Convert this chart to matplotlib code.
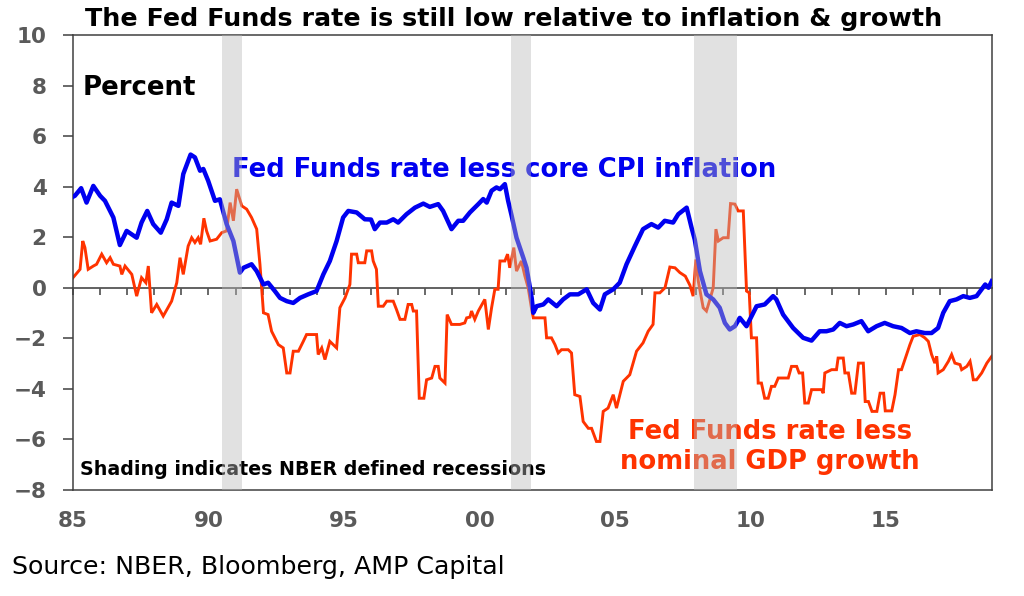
import matplotlib
matplotlib.use("Agg")
import matplotlib.pyplot as plt
import numpy as np

plt.rcParams['font.family'] = ['DejaVu Sans']

# ---------------- data ----------------
blue_years = [1985.0, 1985.07, 1985.3, 1985.5, 1985.75, 1986.0, 1986.18, 1986.49, 1986.73, 1986.98,
              1987.35, 1987.53, 1987.74, 1987.96, 1988.24, 1988.46, 1988.64, 1988.89, 1989.07, 1989.34,
              1989.5, 1989.69, 1989.81, 1989.99, 1990.24, 1990.42, 1990.67, 1990.92, 1991.16, 1991.29,
              1991.59, 1991.78, 1992.03, 1992.2, 1992.45, 1992.64, 1992.89, 1993.13, 1993.38, 1993.68,
              1993.99, 1994.24, 1994.48, 1994.73, 1994.97, 1995.16, 1995.47, 1995.77, 1996.0, 1996.14,
              1996.33, 1996.58, 1996.82, 1997.0, 1997.31, 1997.62, 1997.93, 1998.17, 1998.48, 1998.66,
              1998.97, 1999.22, 1999.4, 1999.65, 1999.96, 2000.14, 2000.27, 2000.45, 2000.63, 2000.76,
              2000.94, 2001.06, 2001.19, 2001.37, 2001.62, 2001.74, 2001.93, 2001.99, 2002.11, 2002.36,
              2002.54, 2002.85, 2003.09, 2003.34, 2003.65, 2003.96, 2004.2, 2004.45, 2004.63, 2004.94,
              2005.18, 2005.43, 2005.74, 2006.04, 2006.35, 2006.6, 2006.84, 2007.15, 2007.34, 2007.65,
              2007.83, 2007.95, 2008.14, 2008.38, 2008.63, 2008.87, 2009.06, 2009.24, 2009.43, 2009.61,
              2009.86, 2010.23, 2010.53, 2010.84, 2010.96, 2011.21, 2011.58, 2011.95, 2012.26, 2012.56,
              2012.81, 2013.06, 2013.3, 2013.55, 2013.8, 2014.1, 2014.35, 2014.66, 2014.96, 2015.27,
              2015.58, 2015.89, 2016.13, 2016.44, 2016.69, 2016.93, 2017.12, 2017.36, 2017.61, 2017.86,
              2018.1, 2018.35, 2018.54, 2018.67, 2018.79, 2018.91]
blue_values = [3.6, 3.64, 3.94, 3.37, 4.03, 3.64, 3.44, 2.78, 1.69, 2.25,
               1.98, 2.58, 3.04, 2.52, 2.18, 2.71, 3.37, 3.24, 4.5, 5.27,
               5.16, 4.63, 4.7, 4.23, 3.44, 3.5, 2.52, 1.85, 0.6, 0.79,
               0.93, 0.66, 0.13, 0.2, -0.13, -0.4, -0.53, -0.6, -0.4, -0.26,
               -0.13, 0.53, 1.06, 1.85, 2.78, 3.04, 2.98, 2.71, 2.7, 2.32,
               2.58, 2.58, 2.71, 2.58, 2.91, 3.17, 3.33, 3.2, 3.31, 3.04,
               2.32, 2.65, 2.65, 2.98, 3.31, 3.51, 3.37, 3.84, 3.97, 3.9,
               4.1, 3.44, 2.85, 1.98, 1.19, 0.79, -0.4, -0.99, -0.73, -0.66,
               -0.46, -0.73, -0.46, -0.26, -0.26, -0.06, -0.6, -0.86, -0.26, -0.06,
               0.2, 0.93, 1.65, 2.32, 2.52, 2.38, 2.65, 2.58, 2.91, 3.17,
               2.38, 1.9, 0.66, -0.26, -0.46, -0.79, -1.39, -1.65, -1.52, -1.19,
               -1.52, -0.73, -0.66, -0.33, -0.46, -1.06, -1.59, -1.98, -2.09, -1.72,
               -1.72, -1.65, -1.39, -1.52, -1.45, -1.32, -1.72, -1.52, -1.39, -1.52,
               -1.59, -1.79, -1.72, -1.79, -1.79, -1.59, -0.99, -0.53, -0.46, -0.33,
               -0.4, -0.33, -0.06, 0.13, 0.0, 0.26]

red_years = [1985.0, 1985.26, 1985.36, 1985.44, 1985.56, 1985.75, 1985.87, 1986.06, 1986.24, 1986.37,
             1986.49, 1986.73, 1986.8, 1986.92, 1987.17, 1987.35, 1987.53, 1987.69, 1987.78, 1987.9,
             1988.09, 1988.33, 1988.64, 1988.83, 1988.95, 1989.07, 1989.25, 1989.38, 1989.5, 1989.62,
             1989.71, 1989.83, 1989.93, 1990.06, 1990.3, 1990.49, 1990.67, 1990.8, 1990.92, 1991.04,
             1991.23, 1991.41, 1991.59, 1991.78, 1991.9, 1992.03, 1992.2, 1992.33, 1992.58, 1992.76,
             1992.89, 1993.01, 1993.13, 1993.32, 1993.5, 1993.62, 1993.99, 1994.05, 1994.18, 1994.3,
             1994.48, 1994.73, 1994.85, 1995.04, 1995.22, 1995.28, 1995.47, 1995.53, 1995.77, 1995.84,
             1996.02, 1996.08, 1996.2, 1996.27, 1996.45, 1996.58, 1996.82, 1996.94, 1997.07, 1997.25,
             1997.37, 1997.5, 1997.56, 1997.68, 1997.78, 1997.95, 1998.05, 1998.24, 1998.36, 1998.48,
             1998.54, 1998.73, 1998.81, 1998.97, 1999.28, 1999.46, 1999.53, 1999.65, 1999.71, 1999.83,
             1999.96, 2000.2, 2000.33, 2000.45, 2000.57, 2000.69, 2000.76, 2000.94, 2001.04, 2001.12,
             2001.27, 2001.37, 2001.55, 2001.68, 2001.8, 2001.93, 2001.99, 2002.42, 2002.48, 2002.66,
             2002.79, 2002.91, 2003.03, 2003.28, 2003.4, 2003.52, 2003.71, 2003.83, 2004.02, 2004.14,
             2004.32, 2004.45, 2004.57, 2004.75, 2004.94, 2005.06, 2005.31, 2005.55, 2005.8, 2006.04,
             2006.23, 2006.41, 2006.48, 2006.66, 2006.85, 2007.03, 2007.22, 2007.4, 2007.6, 2007.77,
             2007.89, 2007.99, 2008.08, 2008.26, 2008.38, 2008.51, 2008.63, 2008.73, 2008.82, 2009.0,
             2009.18, 2009.27, 2009.43, 2009.55, 2009.74, 2009.86, 2009.96, 2010.04, 2010.23, 2010.29,
             2010.41, 2010.53, 2010.66, 2010.78, 2010.9, 2011.03, 2011.4, 2011.52, 2011.71, 2011.8,
             2011.93, 2012.01, 2012.14, 2012.26, 2012.63, 2012.69, 2012.75, 2013.0, 2013.18, 2013.24,
             2013.43, 2013.49, 2013.62, 2013.74, 2013.86, 2013.99, 2014.17, 2014.24, 2014.36, 2014.49,
             2014.67, 2014.79, 2014.92, 2014.98, 2015.22, 2015.34, 2015.47, 2015.58, 2015.77, 2015.89,
             2016.01, 2016.26, 2016.44, 2016.57, 2016.69, 2016.81, 2016.88, 2016.93, 2017.12, 2017.31,
             2017.43, 2017.55, 2017.74, 2017.8, 2017.99, 2018.11, 2018.17, 2018.23, 2018.35, 2018.54,
             2018.73, 2018.91]
red_values = [0.4, 0.73, 1.85, 1.59, 0.73, 0.86, 0.93, 1.33, 0.99, 1.19,
              0.93, 0.86, 0.53, 0.86, 0.53, -0.33, 0.4, 0.2, 0.86, -0.99,
              -0.66, -1.12, -0.53, 0.2, 1.19, 0.53, 1.65, 1.98, 1.79, 1.98,
              1.72, 2.75, 2.25, 1.85, 1.92, 2.18, 2.25, 3.37, 2.65, 3.9,
              3.24, 3.11, 2.78, 2.32, 0.93, -0.99, -1.06, -1.72, -2.25, -2.38,
              -3.37, -3.37, -2.51, -2.51, -2.12, -1.85, -1.85, -2.64, -2.38, -2.84,
              -2.12, -2.38, -0.79, -0.4, 0.13, 1.33, 1.33, 0.99, 0.99, 1.46,
              1.46, 1.06, 0.73, -0.73, -0.73, -0.53, -0.53, -0.86, -1.25, -1.25,
              -0.66, -0.66, -0.92, -0.92, -4.37, -4.37, -3.64, -3.57, -3.11, -3.11,
              -3.57, -3.77, -1.06, -1.45, -1.45, -1.39, -1.19, -1.16, -0.92, -1.25,
              -0.92, -0.46, -1.65, -0.79, -0.06, -0.06, 1.06, 1.06, 1.33, 0.79,
              1.59, 0.66, 1.06, 0.46, 0.0, -0.86, -1.19, -1.19, -1.98, -1.98,
              -2.25, -2.58, -2.45, -2.45, -2.58, -4.23, -4.3, -5.29, -5.56, -5.56,
              -6.08, -6.08, -4.89, -4.76, -4.23, -4.76, -3.7, -3.44, -2.51, -2.18,
              -1.72, -1.45, -0.2, -0.2, 0.0, 0.82, 0.79, 0.6, 0.46, 0.1,
              -0.33, 1.12, 0.26, -0.79, -0.92, -0.46, 0.0, 2.32, 1.85, 1.98,
              1.98, 3.33, 3.31, 3.04, 3.04, -0.13, -0.2, -1.98, -1.98, -3.77,
              -3.77, -4.37, -4.37, -3.9, -3.9, -3.57, -3.57, -3.11, -3.11, -3.37,
              -3.37, -4.56, -4.56, -4.03, -4.03, -4.17, -3.37, -3.24, -3.24, -2.78,
              -2.78, -3.37, -3.37, -4.17, -4.17, -2.98, -2.98, -4.5, -4.5, -4.89,
              -4.89, -4.17, -4.17, -4.87, -4.87, -4.23, -3.24, -3.24, -2.64, -2.25,
              -1.92, -1.85, -1.98, -2.12, -2.64, -2.98, -2.71, -3.37, -3.24, -2.91,
              -2.64, -2.98, -3.04, -3.24, -3.11, -2.91, -3.24, -3.64, -3.64, -3.37,
              -2.98, -2.71]

recession_starts = [1990.5, 2001.17, 2007.92]
recession_ends = [1991.25, 2001.9, 2009.5]

xtick_years = [1985, 1990, 1995, 2000, 2005, 2010, 2015]
xtick_labels = ['85', '90', '95', '00', '05', '10', '15']
ytick_values = [10, 8, 6, 4, 2, 0, -2, -4, -6, -8]

BLUE = '#0000F0'
RED = '#FF3300'
GREY_TXT = '#5A5A5A'
SPINE = '#404040'

# ---------------- figure ----------------
fig = plt.figure(figsize=(10.24, 5.96), dpi=100)
ax = fig.add_axes([73/1024, 1-490/596, (992-73)/1024, (490-35)/596])

ax.plot(blue_years, blue_values, color=BLUE, lw=3.2, zorder=3, solid_joinstyle='round')
ax.plot(red_years, red_values, color=RED, lw=2.1, zorder=2.5, solid_joinstyle='miter')

for s, e in zip(recession_starts, recession_ends):
    ax.axvspan(s, e, color='#B9B9B9', alpha=0.42, lw=0, zorder=6)

ax.set_xlim(1985, 2018.92)
ax.set_ylim(-8, 10)

ax.set_xticks(xtick_years)
ax.set_xticklabels(xtick_labels)
ax.set_yticks(ytick_values)
ax.tick_params(axis='x', length=0, pad=15, labelsize=15.5, labelcolor=GREY_TXT)
ax.tick_params(axis='y', length=7, width=1.1, color=SPINE, pad=12, labelsize=15.5, labelcolor=GREY_TXT, direction='out')
for lab in ax.get_xticklabels() + ax.get_yticklabels():
    lab.set_fontweight('bold')
for sp in ax.spines.values():
    sp.set_color(SPINE)
    sp.set_linewidth(1.1)

# zero line with yearly ticks
sec = ax.secondary_xaxis(8/18)
sec.set_xticks(list(range(1985, 2019)))
sec.tick_params(axis='x', direction='out', length=5, width=1.1, color=SPINE, labelbottom=False, labeltop=False)
sec.spines['bottom'].set_color('#555555')
sec.spines['bottom'].set_linewidth(1.3)

# texts
fig.text(85/1024, 1-19/596, 'The Fed Funds rate is still low relative to inflation & growth',
         fontsize=18.3, fontweight='bold', color='black', ha='left', va='center')
fig.text(12/1024, 1-567/596, 'Source: NBER, Bloomberg, AMP Capital',
         fontsize=18.2, color='black', ha='left', va='center')
ax.text(0.011, 0.8835, 'Percent', transform=ax.transAxes, fontsize=18.7, fontweight='bold',
        color='black', ha='left', va='center', zorder=4)
ax.text(0.173, 0.703, 'Fed Funds rate less core CPI inflation', transform=ax.transAxes,
        fontsize=18.6, fontweight='bold', color=BLUE, ha='left', va='center', zorder=4)
ax.text(0.758, (490-432)/455, 'Fed Funds rate less', transform=ax.transAxes,
        fontsize=18.6, fontweight='bold', color=RED, ha='center', va='center', zorder=4)
ax.text(0.758, (490-462)/455, 'nominal GDP growth', transform=ax.transAxes,
        fontsize=18.6, fontweight='bold', color=RED, ha='center', va='center', zorder=4)
ax.text(0.0076, 0.044, 'Shading indicates NBER defined recessions', transform=ax.transAxes,
        fontsize=13.7, fontweight='bold', color='black', ha='left', va='center', zorder=4)

fig.savefig('out.png', dpi=100)
